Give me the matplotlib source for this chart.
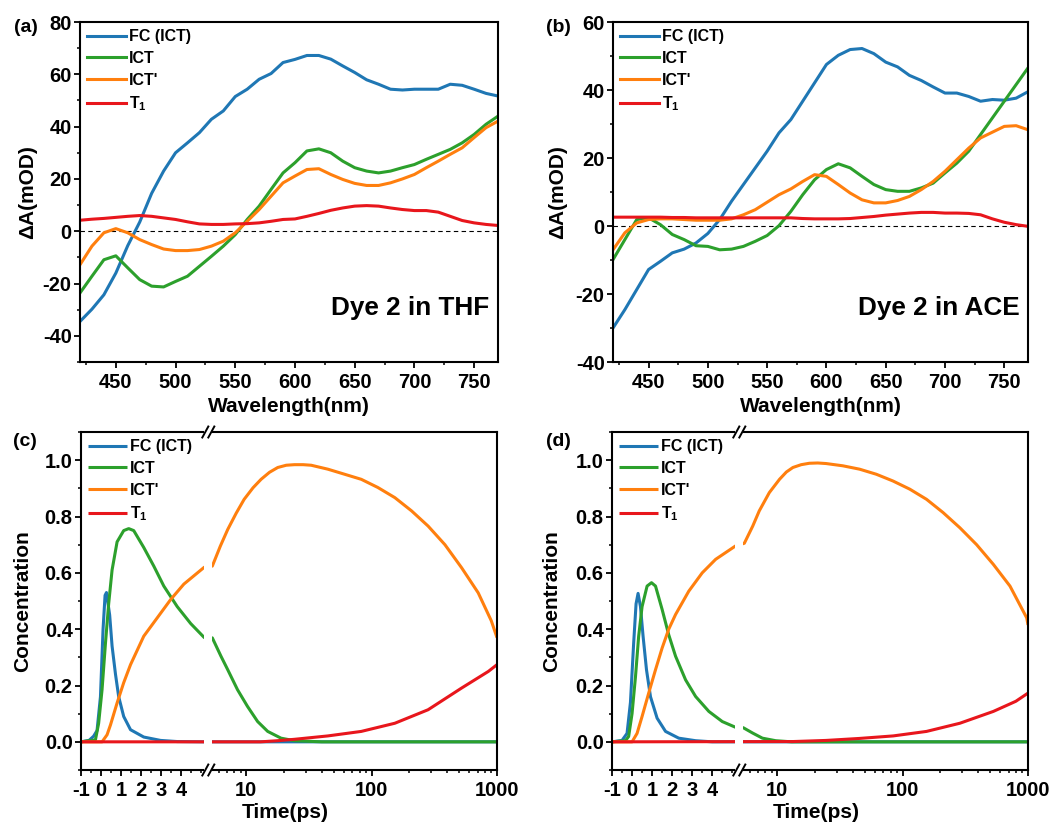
import numpy as np
import matplotlib
matplotlib.use('Agg')
import matplotlib.pyplot as plt
from matplotlib.patches import Rectangle

# --- spectra (mOD), sampled every 10 nm ---
wl = list(range(420, 771, 10))

thf_fc = [-34.5, -29.8, -24.3, -16.0, -5.5, 3.5, 14.5, 23.0, 30.0, 33.8, 37.7, 42.8, 46.0, 51.5, 54.3, 58.1, 60.3, 64.5,
          65.7, 67.2, 67.2, 65.8, 63.2, 60.7, 57.9, 56.2, 54.3, 54.0, 54.3, 54.3, 54.3, 56.2, 55.8, 54.3, 52.7, 51.7]
thf_ict = [-23.6, -17.2, -10.9, -9.4, -14.0, -18.5, -21.0, -21.3, -19.2, -17.2, -13.4, -9.6, -5.7, -1.3, 4.5, 9.6, 16.0, 22.3,
           26.2, 30.7, 31.5, 30.0, 26.8, 24.3, 23.0, 22.3, 23.0, 24.3, 25.5, 27.5, 29.4, 31.3, 33.8, 37.0, 40.9, 44.0]
thf_ict2 = [-12.8, -5.7, -0.6, 1.0, -0.6, -3.2, -5.1, -6.8, -7.4, -7.4, -7.0, -5.7, -3.8, -0.6, 3.8, 8.3, 13.4, 18.5,
            21.1, 23.6, 23.9, 21.7, 19.8, 18.3, 17.5, 17.5, 18.5, 20.0, 21.7, 24.3, 26.8, 29.4, 31.9, 35.8, 39.6, 42.1]
thf_t1 = [4.2, 4.6, 4.9, 5.3, 5.7, 6.0, 5.7, 5.1, 4.5, 3.6, 2.8, 2.6, 2.6, 2.8, 2.9, 3.2, 3.8, 4.5,
          4.7, 5.7, 6.8, 8.0, 8.9, 9.6, 9.8, 9.6, 8.9, 8.3, 7.9, 7.9, 7.3, 5.7, 4.1, 3.2, 2.6, 2.2]

ace_fc = [-30.0, -24.6, -18.7, -12.8, -10.4, -7.9, -6.8, -5.0, -2.2, 1.9, 7.3, 12.2, 17.1, 22.0, 27.4, 31.3, 36.7, 42.1,
          47.5, 50.2, 51.9, 52.2, 50.7, 48.2, 46.8, 44.3, 42.8, 40.9, 39.1, 39.1, 38.1, 36.7, 37.2, 37.0, 37.6, 39.5]
ace_ict = [-9.9, -4.0, 1.9, 2.4, 0.4, -2.5, -4.0, -5.8, -6.0, -7.0, -6.8, -6.0, -4.5, -2.8, 0.1, 4.3, 9.2, 13.6,
           16.6, 18.3, 17.1, 14.6, 12.2, 10.7, 10.2, 10.2, 11.2, 12.6, 15.6, 18.5, 22.0, 26.9, 31.8, 36.7, 41.6, 46.5]
ace_ict2 = [-7.0, -2.0, 0.9, 1.9, 2.1, 2.1, 1.9, 1.7, 1.7, 1.7, 2.1, 3.3, 4.8, 7.0, 9.2, 10.9, 13.1, 15.1,
            14.6, 12.2, 9.7, 7.7, 6.8, 6.8, 7.5, 8.7, 10.7, 13.1, 16.1, 19.5, 22.9, 25.9, 27.6, 29.3, 29.5, 28.3]
ace_t1 = [2.6, 2.6, 2.6, 2.6, 2.6, 2.5, 2.5, 2.4, 2.4, 2.4, 2.4, 2.4, 2.4, 2.4, 2.4, 2.4, 2.2, 2.1,
          2.1, 2.1, 2.2, 2.5, 2.8, 3.2, 3.5, 3.8, 4.0, 4.0, 3.8, 3.8, 3.7, 3.3, 2.1, 1.1, 0.4, -0.1]

# --- concentration profiles, THF ---
thf_fc_t = [-1, -0.6, -0.37, -0.2, -0.03, 0.1, 0.2, 0.27, 0.43, 0.55, 0.72, 0.88, 1.13, 1.47, 2.13, 2.97, 3.8, 5.15,
            5.35, 10, 100, 1000]
thf_fc_c = [0, 0.005, 0.02, 0.04, 0.16, 0.40, 0.52, 0.53, 0.45, 0.34, 0.24, 0.16, 0.09, 0.043, 0.017, 0.005, 0.001, 0,
            0, 0, 0, 0]
thf_ict_t = [-1, -0.28, -0.12, 0.05, 0.22, 0.38, 0.55, 0.8, 1.13, 1.38, 1.63, 2.13, 2.63, 3.13, 3.8, 4.47, 5.15,
             5.35, 6.27, 7.1, 8.5, 10.2, 12.3, 14.8, 18.9, 24.2, 40, 100, 1000]
thf_ict_c = [0, 0.007, 0.066, 0.185, 0.35, 0.49, 0.61, 0.71, 0.75, 0.757, 0.75, 0.69, 0.624, 0.553, 0.48, 0.42, 0.37,
             0.369, 0.304, 0.256, 0.185, 0.126, 0.072, 0.037, 0.013, 0.004, 0, 0, 0]
thf_ict2_t = [-1, 0.05, 0.3, 0.47, 0.8, 1.13, 1.47, 2.13, 2.8, 3.47, 4.13, 5.15,
              5.35, 6.2, 7.1, 8.3, 9.6, 11.3, 13.1, 15.3, 17.8, 20.8, 24.2, 28.4, 32.9, 44.7, 60.8, 82.6, 112, 153,
              208, 282, 384, 522, 708, 900, 1000]
thf_ict2_c = [0, 0, 0.025, 0.06, 0.138, 0.21, 0.274, 0.375, 0.44, 0.505, 0.56, 0.62,
              0.624, 0.695, 0.754, 0.812, 0.861, 0.902, 0.932, 0.957, 0.974, 0.982, 0.984, 0.984, 0.982, 0.968, 0.95,
              0.932, 0.903, 0.867, 0.82, 0.766, 0.70, 0.618, 0.529, 0.43, 0.37]
thf_t1_t = [-1, 5.15, 5.35, 13, 17.8, 24.2, 44.7, 82.6, 153, 282, 522, 853, 1000]
thf_t1_c = [0, 0, 0, 0, 0.004, 0.009, 0.021, 0.037, 0.066, 0.114, 0.191, 0.25, 0.274]

# --- concentration profiles, ACE ---
ace_fc_t = [-1, -0.5, -0.25, -0.08, 0.08, 0.2, 0.3, 0.42, 0.55, 0.72, 0.92, 1.25, 1.67, 2.33, 3.17, 4, 1000]
ace_fc_c = [0, 0.005, 0.03, 0.14, 0.35, 0.49, 0.527, 0.48, 0.375, 0.256, 0.16, 0.084, 0.037, 0.013, 0.004, 0, 0]
ace_ict_t = [-1, -0.33, -0.17, 0, 0.17, 0.33, 0.5, 0.75, 0.97, 1.17, 1.5, 1.83, 2.17, 2.67, 3.17, 3.83, 4.5, 5.15,
             5.35, 6.36, 7.6, 9.7, 13, 1000]
ace_ict_c = [0, 0.004, 0.019, 0.1, 0.23, 0.375, 0.48, 0.553, 0.565, 0.553, 0.47, 0.38, 0.304, 0.22, 0.161, 0.108,
             0.072, 0.052, 0.05, 0.031, 0.013, 0.004, 0, 0]
ace_ict2_t = [-1, 0, 0.25, 0.5, 0.83, 1.17, 1.5, 1.83, 2.17, 2.83, 3.5, 4.17, 5.15,
              5.45, 6.36, 7.17, 8.63, 10.4, 11.8, 13.3, 15.5, 18, 21, 24.5, 33.3, 45.3, 61.6, 83.7, 114, 155, 210,
              286, 389, 529, 718, 977, 1000]
ace_ict2_c = [0, 0, 0.03, 0.09, 0.173, 0.256, 0.333, 0.4, 0.452, 0.535, 0.6, 0.648, 0.695,
              0.705, 0.766, 0.82, 0.885, 0.932, 0.958, 0.974, 0.984, 0.989, 0.99, 0.988, 0.98, 0.968, 0.95, 0.926,
              0.897, 0.861, 0.814, 0.76, 0.70, 0.63, 0.553, 0.44, 0.415]
ace_t1_t = [-1, 13.3, 24.5, 45, 84, 155, 286, 529, 800, 1000]
ace_t1_c = [0, 0.001, 0.005, 0.012, 0.021, 0.037, 0.066, 0.108, 0.144, 0.173]

labels = ['FC (ICT)', 'ICT', "ICT'", r'T$_{\mathbf{1}}$']
colors = ['#1f77b4', '#2ca02c', '#ff7f0e', '#e8161c']

plt.rcParams.update({
    'font.family': ['Liberation Sans', 'DejaVu Sans'],
    'font.weight': 'bold',
    'axes.labelweight': 'bold',
    'axes.unicode_minus': False,
    'mathtext.fontset': 'custom',
    'mathtext.rm': 'Liberation Sans:bold',
    'mathtext.bf': 'Liberation Sans:bold',
    'mathtext.it': 'Liberation Sans:bold:italic',
    'axes.linewidth': 1.5,
    'xtick.major.size': 4, 'xtick.minor.size': 2.5,
    'ytick.major.size': 4, 'ytick.minor.size': 2.5,
    'xtick.major.width': 1.3, 'xtick.minor.width': 1.1,
    'ytick.major.width': 1.3, 'ytick.minor.width': 1.1,
    'xtick.labelsize': 14.5, 'ytick.labelsize': 14.5,
    'axes.labelsize': 15,
})

# broken time axis: linear from -1 to 5.15, gap, log from 5.35 to 1000
LIN_END, LOG_START, GAP, DEC = 5.15, 5.35, 0.4, 6.25


def fwd(t):
    t = np.asarray(t, float)
    with np.errstate(all='ignore'):
        lg = LIN_END + 1 + GAP + DEC * np.log10(np.maximum(t, LOG_START) / LOG_START)
        mid = LIN_END + 1 + GAP * (t - LIN_END) / (LOG_START - LIN_END)
    return np.where(t <= LIN_END, t + 1, np.where(t >= LOG_START, lg, mid))


def inv(u):
    u = np.asarray(u, float)
    u1 = LIN_END + 1
    u2 = u1 + GAP
    with np.errstate(all='ignore'):
        lg = LOG_START * 10 ** ((u - u2) / DEC)
        mid = LIN_END + (u - u1) / GAP * (LOG_START - LIN_END)
    return np.where(u <= u1, u - 1, np.where(u >= u2, lg, mid))


fig = plt.figure(figsize=(10.61, 8.23), dpi=100)
W, H = 1061, 823


def add_ax(x0, x1, y0, y1):
    return fig.add_axes([x0 / W, 1 - y1 / H, (x1 - x0) / W, (y1 - y0) / H])


def legend(ax):
    ax.legend(loc='upper left', bbox_to_anchor=(0, 1), frameon=False, fontsize=11.5, handlelength=2.4,
              handletextpad=0.2, labelspacing=0.42, borderaxespad=0.0, borderpad=0.45)


def spectra(ax, series, ymin, ymax, text, ylabx):
    for s, c, lab in zip(series, colors, labels):
        ax.plot(wl, s, color=c, lw=2.2, label=lab, solid_joinstyle='round')
    ax.axhline(0, color='k', lw=0.8, ls=(0, (4, 3)), zorder=1)
    ax.set_xlim(420, 770)
    ax.set_ylim(ymin, ymax)
    ax.set_xticks(range(450, 751, 50))
    ax.set_xticks(range(425, 770, 50), minor=True)
    ax.set_yticks(range(-40, ymax + 1, 20))
    ax.set_yticks(range(ymin, ymax + 1, 10), minor=True)
    ax.tick_params(axis='x', which='both', pad=4)
    ax.tick_params(axis='y', which='both', pad=2)
    ax.set_xlabel('Wavelength(nm)')
    ax.set_ylabel('ΔA(mOD)')
    ax.xaxis.set_label_coords(0.5, -0.103)
    ax.yaxis.set_label_coords(ylabx, 0.5)
    ax.text(0.98, 0.16, text, transform=ax.transAxes, ha='right', va='center', fontsize=18.8, fontweight='bold')
    legend(ax)


def kinetics(ax, curves, ylabx):
    ax.set_xscale('function', functions=(fwd, inv))
    for (t, c), col, lab in zip(curves, colors, labels):
        ax.plot(t, c, color=col, lw=2.2, label=lab, solid_capstyle='butt', solid_joinstyle='round')
    ax.set_xlim(-1, 1000)
    ax.set_ylim(-0.1, 1.1)
    ax.set_xticks([-1, 0, 1, 2, 3, 4, 10, 100, 1000])
    ax.set_xticklabels(['-1', '0', '1', '2', '3', '4', '10', '100', '1000'])
    minors = [-0.5, 0.5, 1.5, 2.5, 3.5, 4.5]
    for dec in (1, 10, 100):
        minors += [dec * k for k in range(2, 10)]
    minors = [m for m in minors if m <= LIN_END or m >= LOG_START]
    ax.set_xticks(minors, minor=True)
    ax.set_yticks([0, 0.2, 0.4, 0.6, 0.8, 1.0])
    ax.set_yticklabels(['0.0', '0.2', '0.4', '0.6', '0.8', '1.0'])
    ax.set_yticks(np.arange(-0.1, 1.11, 0.1), minor=True)
    ax.tick_params(axis='x', which='both', pad=4)
    ax.tick_params(axis='y', which='both', pad=2)
    ax.set_xlabel('Time(ps)')
    ax.set_ylabel('Concentration')
    ax.xaxis.set_label_coords(0.49, -0.098)
    ax.yaxis.set_label_coords(ylabx, 0.5)
    legend(ax)

    # white gap across the axis break, then the // marks on both spines
    total = fwd(1000) - fwd(-1)
    g0 = float(fwd(LIN_END) - fwd(-1)) / total
    g1 = float(fwd(LOG_START) - fwd(-1)) / total
    ax.add_patch(Rectangle((g0, -0.01), g1 - g0, 1.02, transform=ax.transAxes, facecolor='white',
                           edgecolor='none', zorder=2.7, clip_on=False))
    bb = ax.get_position()
    pw, ph = bb.width * W, bb.height * H
    gc = (g0 + g1) / 2
    for yy in (0, 1):
        for off in (-3, 3):
            xs = [gc + (off - 3) / pw, gc + (off + 3) / pw]
            ys = [yy - 5.5 / ph, yy + 5.5 / ph]
            ax.plot(xs, ys, transform=ax.transAxes, color='k', lw=1.4, clip_on=False, zorder=5)


ax_a = add_ax(80, 498, 22, 362)
spectra(ax_a, [thf_fc, thf_ict, thf_ict2, thf_t1], -50, 80, 'Dye 2 in THF', -0.103)
ax_b = add_ax(613, 1028, 22, 362)
spectra(ax_b, [ace_fc, ace_ict, ace_ict2, ace_t1], -40, 60, 'Dye 2 in ACE', -0.11)

ax_c = add_ax(81, 497, 432, 770)
kinetics(ax_c, [(thf_fc_t, thf_fc_c), (thf_ict_t, thf_ict_c), (thf_ict2_t, thf_ict2_c), (thf_t1_t, thf_t1_c)], -0.118)
ax_d = add_ax(612, 1028, 432, 770)
kinetics(ax_d, [(ace_fc_t, ace_fc_c), (ace_ict_t, ace_ict_c), (ace_ict2_t, ace_ict2_c), (ace_t1_t, ace_t1_c)], -0.123)

for lab, x, y in [('(a)', 26, 28), ('(b)', 558, 28), ('(c)', 25, 442), ('(d)', 558, 442)]:
    fig.text(x / W, 1 - y / H, lab, ha='center', va='center', fontsize=14, fontweight='bold')

fig.savefig('out.png', dpi=100)
